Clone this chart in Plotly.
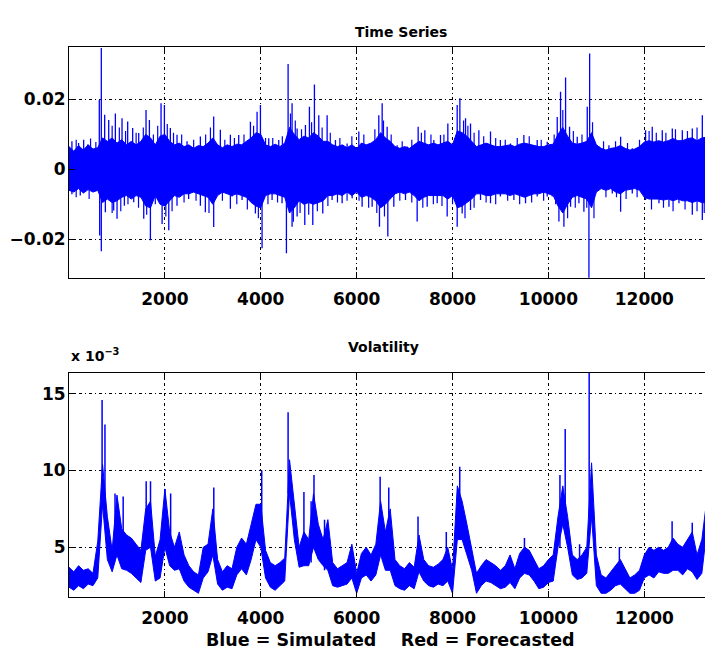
import numpy as np
import plotly.graph_objects as go

BLUE = "#0000ff"

# ---- Time series: dense core envelope (units of 1e-3), one value per 100 steps
ts_x = list(range(0, 13400, 100))
ts_hi = [6.5, 5.2, 6.8, 5.5, 7.0, 5.8, 6.2, 9.0, 8.0, 9.0,
         7.5, 8.5, 7.0, 8.0, 7.0, 8.0, 10.0, 9.0, 7.0, 9.5,
         10.0, 8.0, 7.0, 7.5, 6.5, 7.0, 6.0, 6.8, 6.5, 7.5,
         9.0, 7.0, 6.2, 7.0, 6.5, 7.2, 7.0, 8.0, 9.0, 10.5,
         10.0, 7.0, 6.5, 7.2, 6.5, 7.5, 12.0, 10.0, 8.5, 9.5,
         9.0, 10.5, 9.5, 8.0, 8.0, 7.0, 6.5, 7.0, 6.2, 7.0,
         6.0, 7.5, 7.0, 7.5, 8.5, 10.5, 9.0, 8.0, 6.5, 6.0,
         6.5, 6.0, 7.0, 8.0, 7.5, 7.0, 7.5, 7.0, 7.5, 8.0,
         7.0, 11.0, 10.5, 9.5, 8.0, 6.5, 7.0, 7.5, 7.0, 6.5,
         6.5, 6.8, 7.0, 6.5, 7.2, 7.5, 7.2, 7.0, 6.5, 6.5,
         7.0, 7.2, 10.0, 12.0, 9.5, 7.5, 7.2, 7.5, 8.0, 10.5,
         7.0, 6.0, 5.5, 6.0, 6.2, 6.8, 6.0, 5.5, 5.8, 6.5,
         7.8, 8.2, 7.8, 8.2, 7.8, 8.2, 8.8, 8.2, 8.2, 8.8,
         9.0, 8.2, 9.0, 9.2]
ts_lo = [-6.0, -6.5, -5.5, -6.8, -5.8, -6.5, -6.0, -9.5, -8.5, -9.5,
         -9.0, -8.0, -7.5, -8.5, -7.5, -8.0, -10.5, -11.0, -7.5, -10.0,
         -10.5, -9.0, -7.5, -8.0, -7.0, -7.0, -6.5, -7.0, -7.5, -8.0,
         -10.0, -7.5, -6.5, -7.0, -7.5, -7.0, -7.5, -8.0, -9.5, -10.5,
         -11.0, -7.5, -7.0, -7.0, -7.5, -8.0, -12.5, -11.0, -9.0, -10.0,
         -9.5, -10.0, -9.5, -9.0, -7.5, -7.5, -7.0, -7.5, -6.5, -7.5,
         -6.5, -8.0, -7.5, -8.0, -9.0, -11.0, -10.0, -8.5, -7.0, -6.5,
         -7.0, -6.5, -7.5, -9.0, -8.0, -7.5, -7.5, -7.5, -7.5, -8.5,
         -7.5, -11.0, -10.5, -9.5, -8.5, -7.0, -7.0, -7.5, -7.5, -7.0,
         -7.0, -7.0, -7.5, -7.0, -7.5, -8.0, -7.5, -7.0, -7.0, -6.5,
         -7.0, -7.5, -10.5, -12.5, -10.0, -8.0, -7.5, -8.0, -8.5, -11.0,
         -6.5, -5.5, -6.0, -5.5, -6.5, -7.0, -6.0, -5.8, -5.5, -6.0,
         -8.0, -8.5, -8.5, -8.5, -8.8, -8.5, -9.0, -8.5, -9.0, -9.0,
         -9.5, -9.0, -9.5, -9.5]

# ---- Time series: large excursions (units of 1e-3)
spike_x = [61, 200, 306, 388, 632, 674, 744, 828, 967, 1106, 1224, 1328, 1454, 1607,
           1677, 1920, 1990, 2114, 2253, 2462, 2740, 3018, 3157, 3366,
           3540, 3784, 3923, 3993, 4166, 4375, 4570, 4653, 4758, 4932, 5015, 5119,
           5210, 5384, 5558, 5801, 6045, 6462, 6532, 6636,
           6845, 7054, 7283, 7422, 7610, 7749, 7902, 8097, 8153, 8271, 8375, 8549,
           8792, 8998, 9210, 9488, 9766, 9975,
           10184, 10253, 10358, 10441, 10601, 10810, 10860, 11053, 11262, 11506,
           11749, 12027, 12166, 12375, 12584, 12793, 13001, 13210,
           61, 235, 640, 674, 758, 932, 1002, 1155, 1350, 1559, 1698, 1942, 2081,
           2253, 2496, 2740, 2844, 3018, 3366,
           3401, 3610, 3888, 4027, 4236, 4444, 4535, 4653, 4758, 4918, 5085, 5293,
           5488, 5697, 5906, 6114, 6323, 6476, 6650,
           6775, 7019, 7262, 7471, 7680, 7888, 8097, 8201, 8375, 8584, 8792, 8998,
           9280, 9523, 9766, 9975,
           10080, 10219, 10323, 10462, 10636, 10740, 10845, 11053, 11332, 11506,
           11749, 12027, 12306, 12514, 12723, 13001, 13210]
spike_y = [8.0, 7.5, 8.5, 7.1, 19.8, 34.7, 15.6, 14.1, 16.0, 14.6, 13.7, 11.8, 10.4, 17.0,
           14.1, 18.9, 18.4, 11.8, 9.9, 8.0, 9.4, 15.1, 11.3, 9.9,
           9.8, 13.6, 16.5, 18.4, 8.9, 8.4, 30.1, 18.9, 11.7, 12.7, 17.9, 24.3,
           15.5, 15.5, 8.4, 7.4, 10.8, 15.5, 18.9, 12.2,
           6.9, 6.5, 12.2, 11.2, 8.4, 9.8, 13.1, 18.4, 20.3, 14.6, 13.1, 11.2,
           10.8, 8.4, 7.4, 9.8, 8.4, 7.9,
           15.0, 22.2, 26.3, 12.2, 9.3, 17.9, 33.1, 6.5, 6.9, 9.3,
           6.0, 11.2, 12.2, 11.2, 11.7, 11.2, 11.7, 15.5,
           -7.1, -7.5, -18.9, -23.4, -12.3, -11.8, -14.1, -10.4, -9.4, -14.1, -20.3,
           -15.6, -17.4, -10.4, -8.5, -10.4, -12.3, -16.5, -11.3,
           -7.8, -8.8, -12.6, -22.6, -8.8, -9.7, -24.0, -16.4, -13.5, -15.9, -15.9,
           -12.6, -8.8, -9.7, -8.3, -10.7, -10.7, -16.4, -19.2,
           -10.7, -8.8, -14.9, -10.7, -9.7, -13.5, -16.4, -12.6, -11.6, -8.8, -9.7,
           -7.8, -8.8, -9.7, -7.8, -7.8,
           -7.8, -14.9, -16.4, -10.7, -9.7, -12.1, -31.6, -5.9, -6.9, -12.1,
           -6.9, -8.8, -9.7, -10.7, -9.7, -13.0, -14.5]

# ---- Time series: smaller strokes just beyond the core (units of 1e-3)
minor_x = [150, 450, 560, 900, 1050, 1180, 1400, 1550, 1760, 1850, 2050, 2180, 2350,
           2600, 2850, 2950, 3250, 3450, 3650, 3850, 4100, 4250, 4450, 4620, 4720,
           4850, 5060, 5280, 5450, 5650, 5900, 6150, 6380, 6560, 6720, 6950, 7150,
           7350, 7550, 7820, 8050, 8230, 8320, 8450, 8650, 8900, 9100, 9350, 9600,
           9850, 10120, 10300, 10520, 10700, 10920, 11150, 11400, 11650, 11900,
           12100, 12250, 12450, 12650, 12900, 13100, 13280,
           150, 420, 900, 1080, 1230, 1450, 1620, 1800, 2020, 2150, 2400, 2650, 2920,
           3200, 3500, 3720, 3950, 4150, 4350, 4680, 4820, 5000, 5180, 5400, 5600,
           5800, 6050, 6250, 6420, 6580, 6900, 7150, 7380, 7600, 7780, 8000, 8260,
           8450, 8700, 8900, 9150, 9400, 9650, 9900, 10150, 10400, 10560, 10800,
           10950, 11200, 11420, 11620, 11850, 12150, 12400, 12600, 12850, 13100, 13250]
minor_y = [8.5, 8.8, 7.8, 12.5, 12.0, 11.0, 10.5, 12.0, 10.0, 12.5, 13.0, 10.5, 10.0,
           8.5, 10.0, 12.0, 8.5, 9.0, 10.0, 12.5, 9.0, 9.0, 9.5, 16.0, 14.0,
           11.5, 13.5, 12.0, 10.5, 9.0, 9.5, 10.0, 11.5, 14.0, 10.0, 8.0, 8.5,
           10.5, 10.0, 10.0, 9.0, 14.0, 12.5, 10.5, 9.5, 9.0, 8.5, 9.0, 9.5,
           8.5, 10.0, 17.0, 11.0, 10.0, 13.5, 8.0, 8.0, 7.5, 8.5,
           11.0, 10.5, 10.5, 11.5, 11.0, 12.0, 13.0,
           -8.0, -8.5, -12.5, -12.0, -10.0, -11.0, -13.0, -10.0, -13.5, -12.0, -9.5,
           -9.0, -12.5, -9.0, -10.0, -11.5, -14.0, -10.0, -9.5, -15.0, -12.5, -13.0,
           -12.0, -10.5, -9.5, -9.0, -9.0, -11.0, -12.5, -13.5, -9.0, -9.5, -11.0,
           -10.0, -10.5, -10.0, -14.0, -11.0, -9.5, -10.0, -9.0, -10.0, -9.5, -9.0,
           -10.0, -14.0, -11.0, -11.0, -14.0, -8.0, -8.0, -8.5, -8.0, -11.5, -11.0,
           -12.0, -11.5, -12.0, -12.5]

# ---- Volatility (units of 1e-3): band, one value per 100 steps
vol_x = list(range(0, 13400, 100))
vol_hi = [3.7, 3.4, 3.8, 3.5, 3.6, 3.3, 5.4, 10.4, 7.0, 4.8, 8.4, 6.2, 5.8, 5.6, 5.2,
          4.8, 7.5, 8.0, 4.4, 5.5, 8.8, 6.0, 5.0, 6.0, 4.5, 3.8, 3.4, 3.2, 5.0, 5.2,
          7.5, 4.2, 3.4, 3.8, 3.6, 5.0, 5.6, 5.2, 6.5, 7.8, 7.8, 4.8, 4.0, 3.8, 4.0,
          4.3, 10.7, 8.0, 5.0, 6.0, 5.5, 8.5, 6.5, 5.5, 6.8, 4.0, 3.6, 3.8, 4.0, 5.2,
          3.3, 4.6, 5.0, 4.5, 5.2, 8.0, 6.0, 7.5, 4.2, 3.8, 3.6, 4.0, 3.7, 5.8, 4.2,
          3.8, 3.7, 3.9, 4.2, 5.0, 3.5, 9.0, 8.0, 6.5, 5.0, 3.3, 3.8, 4.2, 4.0, 3.8,
          3.5, 3.8, 4.5, 3.6, 4.6, 5.0, 4.8, 4.2, 3.6, 3.8, 4.2, 4.5, 7.0, 9.0, 7.0,
          4.5, 4.2, 4.5, 5.0, 10.5, 4.5, 3.2, 3.0, 3.4, 3.8, 4.2, 3.6, 3.0, 3.2, 3.5,
          4.5, 5.0, 4.8, 5.0, 4.8, 5.0, 5.6, 5.2, 5.0, 5.5, 6.0, 4.5, 5.5, 8.0]
vol_lo = [2.4, 2.2, 2.5, 2.3, 2.6, 2.5, 3.0, 7.8, 4.2, 3.4, 4.5, 3.6, 3.5, 3.3, 3.0,
          2.7, 4.8, 5.0, 2.8, 3.0, 5.0, 3.8, 3.5, 3.6, 2.8, 2.4, 2.2, 2.0, 3.0, 3.4,
          4.5, 2.6, 2.2, 2.4, 2.3, 3.2, 3.6, 3.2, 4.2, 5.5, 5.0, 3.0, 2.4, 2.2, 2.5,
          2.8, 8.5, 5.5, 3.7, 3.8, 3.8, 5.0, 4.2, 3.8, 3.5, 2.5, 2.4, 2.5, 2.6, 3.0,
          2.0, 3.0, 3.2, 2.8, 3.2, 4.5, 3.5, 3.5, 2.5, 2.3, 2.2, 2.5, 2.3, 3.4, 2.8,
          2.5, 2.4, 2.6, 2.5, 2.8, 2.0, 5.5, 5.5, 4.5, 3.5, 2.0, 2.5, 2.8, 2.7, 2.5,
          2.3, 2.4, 2.7, 2.3, 3.0, 3.3, 3.2, 2.8, 2.3, 2.4, 2.7, 2.8, 5.0, 6.5, 5.0,
          3.2, 2.9, 3.0, 3.3, 7.0, 2.5, 2.0, 2.0, 2.2, 2.5, 2.6, 2.3, 2.0, 2.0, 2.2,
          3.0, 3.2, 3.0, 3.4, 3.3, 3.3, 3.5, 3.5, 3.2, 3.6, 3.4, 2.9, 3.3, 6.0]

# ---- Volatility peaks (position, top, base), units of 1e-3
peak_x = [690, 750, 960, 1130, 1610, 1700, 2000, 2120, 3020, 4020, 4570, 4900, 5050,
          5110, 5330, 6490, 6670, 7280, 7870, 8150, 9500, 10240, 10350, 10650, 10850,
          11480, 12580, 13000]
peak_top = [14.6, 13.0, 8.5, 8.3, 9.3, 9.3, 8.8, 8.5, 8.9, 10.0, 13.8, 8.6, 8.0,
            9.7, 6.8, 9.6, 8.9, 7.0, 6.0, 10.25, 5.6, 9.7, 12.7, 5.2, 17.0,
            5.0, 6.7, 6.6]
peak_base = [8.0, 8.0, 4.5, 4.0, 5.0, 5.0, 5.0, 4.0, 4.5, 5.0, 8.5, 4.0, 4.0,
             5.0, 3.5, 4.5, 3.5, 3.4, 2.8, 5.5, 3.3, 5.0, 6.5, 3.0, 7.0,
             2.6, 3.5, 3.4]

X_TICKS = [2000, 4000, 6000, 8000, 10000, 12000]
X_MAX = 13266
FONT = "DejaVu Sans"


def band(x, hi, lo):
    xs = list(x) + list(x)[::-1]
    ys = list(hi) + list(lo)[::-1]
    return xs, ys


def segments(x, top, base):
    xs, ys = [], []
    for xi, t, b in zip(x, top, base):
        xs += [xi, xi, None]
        ys += [b, t, None]
    return xs, ys


fig = go.Figure()

# top panel
bx, by = band(ts_x, np.array(ts_hi) * 1e-3, np.array(ts_lo) * 1e-3)
fig.add_trace(go.Scatter(x=bx, y=by, fill="toself", fillcolor=BLUE, mode="lines",
                         line=dict(color=BLUE, width=1), xaxis="x", yaxis="y",
                         hoverinfo="skip"))
mx, my = segments(minor_x, np.array(minor_y) * 1e-3, [0.0] * len(minor_x))
fig.add_trace(go.Scatter(x=mx, y=my, mode="lines", line=dict(color=BLUE, width=1.2),
                         xaxis="x", yaxis="y", hoverinfo="skip"))
sx, sy = segments(spike_x, np.array(spike_y) * 1e-3, [0.0] * len(spike_x))
fig.add_trace(go.Scatter(x=sx, y=sy, mode="lines", line=dict(color=BLUE, width=1.3),
                         xaxis="x", yaxis="y", hoverinfo="skip"))

# bottom panel
vx, vy = band(vol_x, vol_hi, vol_lo)
fig.add_trace(go.Scatter(x=vx, y=vy, fill="toself", fillcolor=BLUE, mode="lines",
                         line=dict(color=BLUE, width=1), xaxis="x2", yaxis="y2",
                         hoverinfo="skip"))
px_, py_ = segments(peak_x, peak_top, peak_base)
fig.add_trace(go.Scatter(x=px_, y=py_, mode="lines", line=dict(color=BLUE, width=1.5),
                         xaxis="x2", yaxis="y2", hoverinfo="skip"))

tickfont = dict(family=FONT, size=17, color="black", weight="bold")
grid = dict(showgrid=True, gridcolor="black", griddash="3px,3px,1px,3px", gridwidth=1,
            zeroline=False, showline=True, linecolor="black", linewidth=1,
            ticks="inside", ticklen=6, tickcolor="black", tickfont=tickfont)
common_x = dict(range=[0, X_MAX], tickvals=X_TICKS, ticktext=[str(t) for t in X_TICKS],
                mirror="ticks", ticklabelstandoff=6, **grid)
common_y = dict(mirror=False, ticklabelstandoff=-1, **grid)

title_font = dict(family=FONT, size=14, color="black", weight="bold")

fig.update_layout(
    width=705, height=651,
    margin=dict(l=69, r=0, t=0, b=0),
    paper_bgcolor="white", plot_bgcolor="white",
    showlegend=False,
    xaxis=dict(domain=[0, 1], anchor="y", **common_x),
    yaxis=dict(domain=[0.5734, 0.9273], anchor="x", range=[-0.0310, 0.0349],
               tickvals=[-0.02, 0, 0.02], ticktext=["\u22120.02", "0", "0.02"],
               **common_y),
    xaxis2=dict(domain=[0, 1], anchor="y2", **common_x),
    yaxis2=dict(domain=[0.0834, 0.4275], anchor="x2", range=[1.78, 16.37],
                tickvals=[5, 10, 15], ticktext=["5", "10", "15"], **common_y),
    annotations=[
        dict(text="Time Series", x=0.522, y=0.951, xref="paper", yref="paper",
             yanchor="middle", showarrow=False, font=title_font),
        dict(text="Volatility", x=0.494, y=0.467, xref="paper", yref="paper",
             yanchor="middle", showarrow=False, font=title_font),
        dict(text="x 10<sup>\u22123</sup>", x=0.0, y=0.455, xref="paper", yref="paper",
             xanchor="left", yanchor="middle", showarrow=False, font=title_font),
        dict(text="Blue = Simulated    Red = Forecasted", x=0.505, y=0.0169,
             xref="paper", yref="paper", yanchor="middle", showarrow=False,
             font=dict(family=FONT, size=17.5, color="black", weight="bold")),
    ],
)

fig.write_html("out.html")
